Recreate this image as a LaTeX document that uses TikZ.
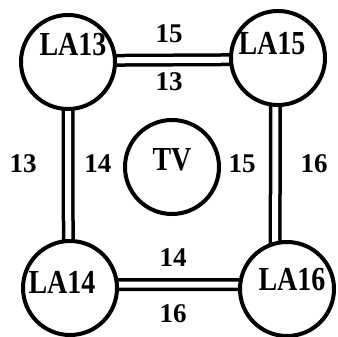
\documentclass[tikz,border=0pt]{standalone}
\usepackage{fontspec}
\setmainfont{Liberation Serif}
\usetikzlibrary{backgrounds}
\begin{document}
\begin{tikzpicture}[x=1pt,y=-1pt,
  ring/.style={circle,draw=black,line width=4pt,fill=white,minimum size=94pt,inner sep=0pt},
  lbl/.style={font=\fontsize{28}{30}\selectfont\bfseries,inner sep=0pt,yscale=1.2,transform shape},
  num/.style={font=\fontsize{27}{30}\selectfont\bfseries,inner sep=0pt},
  link/.style={draw=black,double=white,line width=3.5pt,double distance=6pt,shorten <=-5pt,shorten >=-5pt}]
\useasboundingbox (0,0) rectangle (338,337);
\node[ring] (LA13) at (68,62) {};
\node[ring] (LA15) at (278,58) {};
\node[ring] (TV) at (172,167) {};
\node[ring] (LA14) at (70,288) {};
\node[ring] (LA16) at (287,289) {};
\node[lbl] (t13) at (73,45) {LA13};
\node[lbl] (t15) at (272,44) {LA15};
\node[lbl] (tTV) at (172,160) {TV};
\node[lbl] (t14) at (62,282) {LA14};
\node[lbl] (t16) at (292,280) {LA16};
\begin{pgfonlayer}{background}
\draw[link] (LA13.2) -- (LA15.182);
\draw[link] (LA14.4) -- (LA16.175);
\draw[link] (LA13.270) -- (LA14.92);
\draw[link] (LA15.267) -- (LA16.104);
\end{pgfonlayer}
\node[num] (a) at (169,34) {15};
\node[num] (b) at (169,82) {13};
\node[num] (c) at (23,164) {13};
\node[num] (d) at (98,164) {14};
\node[num] (e) at (242,164) {15};
\node[num] (f) at (314,164) {16};
\node[num] (g) at (173,258) {14};
\node[num] (h) at (173,314) {16};
\end{tikzpicture}
\end{document}
